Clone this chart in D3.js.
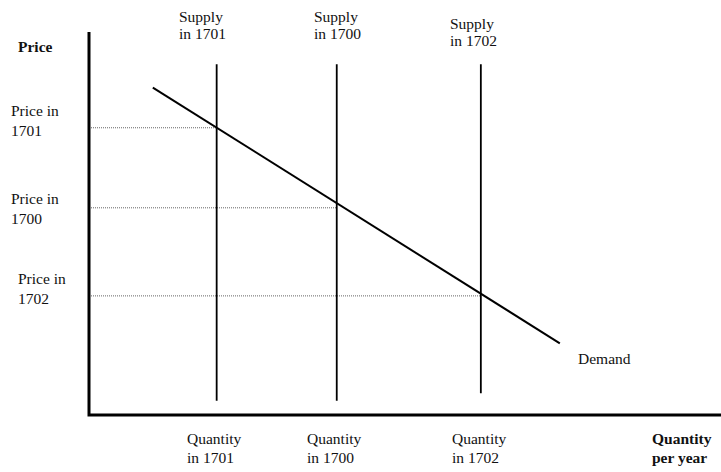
<!DOCTYPE html>
<html><head><meta charset="utf-8">
<script src="https://cdn.jsdelivr.net/npm/d3@7"></script>
<style>
html,body{margin:0;padding:0;background:#fff;}
svg text{font-family:"Liberation Serif","Times New Roman",serif;font-size:15.5px;fill:#111;}
</style>
</head><body>
<svg id="chart" width="721" height="472"></svg>
<script>
// ---- data ----
const years = ["1701", "1700", "1702"];
const quantities = [20.2, 39.2, 62.0];      // equilibrium quantity per year
const prices = [75.0, 54.1, 31.1];          // equilibrium price per year
const supplyTop = [91.6, 91.6, 91.6];
const supplyBottom = [3.7, 3.7, 5.7];
const demandQ = [10.1, 74.5];
const demandP = [85.5, 18.7];
const axisLabels = { y: "Price", x: ["Quantity", "per year"], demand: "Demand" };

// ---- layout ----
const svg = d3.select("#chart");
const x = d3.scaleLinear().domain([0, 100]).range([89, 721]);
const y = d3.scaleLinear().domain([0, 100]).range([415, 32]);

// dotted price lines
svg.selectAll("line.price").data(years).enter().append("line")
  .attr("x1", x(0) + 2).attr("x2", (d, i) => x(quantities[i]))
  .attr("y1", (d, i) => y(prices[i])).attr("y2", (d, i) => y(prices[i]))
  .attr("stroke", "#666").attr("stroke-width", 1).attr("stroke-dasharray", "1,1");

// supply lines
svg.selectAll("line.supply").data(years).enter().append("line")
  .attr("x1", (d, i) => x(quantities[i])).attr("x2", (d, i) => x(quantities[i]))
  .attr("y1", (d, i) => y(supplyTop[i])).attr("y2", (d, i) => y(supplyBottom[i]))
  .attr("stroke", "#000").attr("stroke-width", 1.8);

// demand
svg.append("line")
  .attr("x1", x(demandQ[0])).attr("y1", y(demandP[0]))
  .attr("x2", x(demandQ[1])).attr("y2", y(demandP[1]))
  .attr("stroke", "#000").attr("stroke-width", 2);

// axes
svg.append("path")
  .attr("d", `M${x(0)},${y(100)} L${x(0)},${y(0)} L${x(100)},${y(0)}`)
  .attr("fill", "none").attr("stroke", "#000").attr("stroke-width", 3);

// text helper
function label(lines, tx, ty, bold, lh) {
  const t = svg.append("text").attr("x", tx).attr("y", ty);
  if (bold) t.attr("font-weight", "bold");
  lines.forEach((s, k) => t.append("tspan").attr("x", tx).attr("dy", k === 0 ? 0 : lh).text(s));
}

label([axisLabels.y], 18, 52, true, 0);
label(axisLabels.x, 652, 444, true, 18.5);
label([axisLabels.demand], 578, 364, false, 0);

const supplyLabelPos = [[179, 22], [314, 22], [450, 28.5]];
const priceLabelPos = [[11, 116], [11, 204], [18, 284]];
const qtyLabelPos = [[187, 444], [307, 444], [452, 444]];
years.forEach((yr, i) => {
  label(["Supply", "in " + yr], supplyLabelPos[i][0], supplyLabelPos[i][1], false, 17);
  label(["Price in", yr], priceLabelPos[i][0], priceLabelPos[i][1], false, 19.5);
  label(["Quantity", "in " + yr], qtyLabelPos[i][0], qtyLabelPos[i][1], false, 18.5);
});
</script>
</body></html>
